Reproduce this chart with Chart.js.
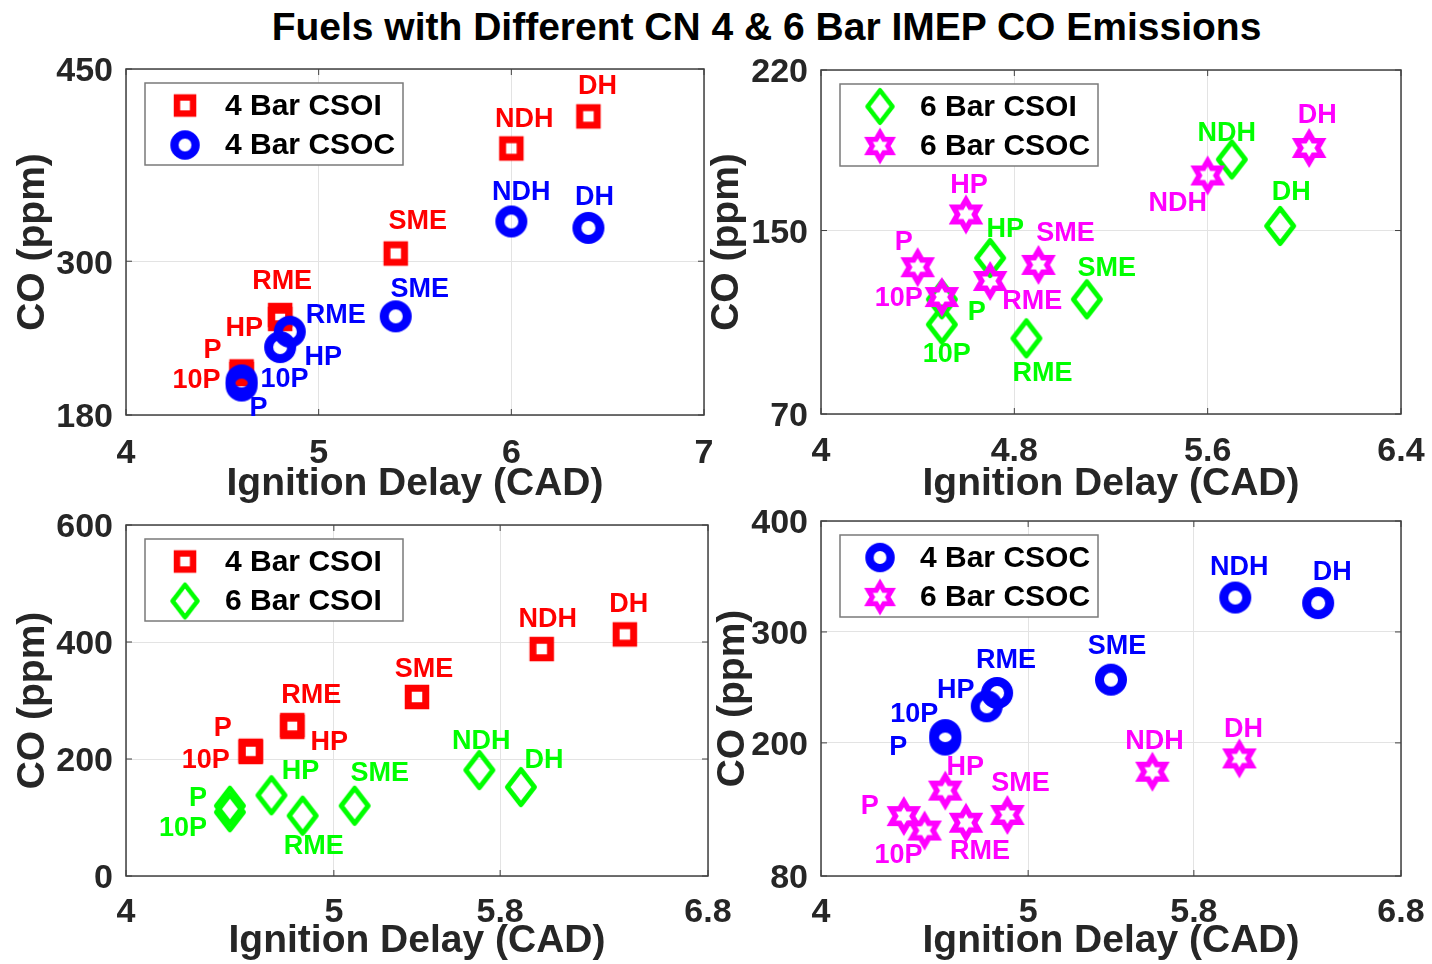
<!DOCTYPE html>
<html>
<head>
<meta charset="utf-8">
<script src="https://cdn.jsdelivr.net/npm/chart.js@4.4.1/dist/chart.umd.min.js"></script>
<style>
  html, body { margin: 0; padding: 0; background: #fff; }
  body { width: 1432px; height: 964px; position: relative; overflow: hidden; }
  #title {
    position: absolute; left: 0; top: 5px; width: 1533px; line-height: 50px;
    text-align: center; font: bold 39px "Liberation Sans", Arial, sans-serif; color: #000;
  }
  canvas { position: absolute; }
</style>
</head>
<body>
<div id="title">Fuels with Different CN 4 &amp; 6 Bar IMEP CO Emissions</div>
<canvas id="tl"></canvas>
<canvas id="tr"></canvas>
<canvas id="bl"></canvas>
<canvas id="br"></canvas>
<script>
var fuels = ["P", "10P", "HP", "RME", "SME", "NDH", "DH"];

// ignition delay (CAD) and CO (ppm) per fuel
var csoi4_delay = [4.6, 4.6, 4.8, 4.8, 5.4, 6.0, 6.4];
var csoi4_co = [214, 212, 255, 258, 306, 388, 413];
var csoc4_delay = [4.6, 4.6, 4.8, 4.85, 5.4, 6.0, 6.4];
var csoc4_co = [203, 207, 233, 245, 257, 331, 326];
var csoi6_delay = [4.5, 4.5, 4.7, 4.85, 5.1, 5.7, 5.9];
var csoi6_co = [120, 109, 138, 103, 120, 181, 152];
var csoc6_delay = [4.4, 4.5, 4.6, 4.7, 4.9, 5.6, 6.02];
var csoc6_co = [134, 121, 157, 128, 135, 174, 186];

var tl_x_ticks = [4, 5, 6, 7];
var tl_y_ticks = [180, 300, 450];
var tr_x_ticks = [4, 4.8, 5.6, 6.4];
var tr_y_ticks = [70, 150, 220];
var bl_x_ticks = [4, 5, 5.8, 6.8];
var bl_y_ticks = [0, 200, 400, 600];
var br_x_ticks = [4, 5, 5.8, 6.8];
var br_y_ticks = [80, 200, 300, 400];

var FONT = '"Liberation Sans", Arial, Helvetica, sans-serif';
var AXIS_COLOR = '#262626';

function marker(kind, color) {
  var c = document.createElement('canvas');
  c.width = 46; c.height = 48;
  var g = c.getContext('2d');
  g.translate(23, 24);
  g.strokeStyle = color;
  if (kind == 'square') {
    g.lineWidth = 7;
    g.strokeRect(-8.75, -8.75, 17.5, 17.5);
  } else if (kind == 'circle') {
    g.lineWidth = 9;
    g.beginPath(); g.arc(0, 0, 11.5, 0, Math.PI * 2); g.stroke();
  } else if (kind == 'diamond') {
    g.lineWidth = 5; g.lineJoin = 'round';
    g.beginPath();
    g.moveTo(0, -17.5); g.lineTo(13.5, 0); g.lineTo(0, 17.5); g.lineTo(-13.5, 0);
    g.closePath(); g.stroke();
  } else {
    g.lineWidth = 5.5; g.lineJoin = 'miter';
    g.beginPath();
    for (var i = 0; i < 12; i++) {
      var r = i % 2 == 0 ? 14.5 : 8.4;
      var a = -Math.PI / 2 + i * Math.PI / 6;
      if (i == 0) g.moveTo(r * Math.cos(a), r * Math.sin(a));
      else g.lineTo(r * Math.cos(a), r * Math.sin(a));
    }
    g.closePath(); g.stroke();
  }
  return c;
}

var series = {
  csoi4: { label: '4 Bar CSOI', x: csoi4_delay, y: csoi4_co, color: '#ff0000', shape: 'square' },
  csoc4: { label: '4 Bar CSOC', x: csoc4_delay, y: csoc4_co, color: '#0000ff', shape: 'circle' },
  csoi6: { label: '6 Bar CSOI', x: csoi6_delay, y: csoi6_co, color: '#00ff00', shape: 'diamond' },
  csoc6: { label: '6 Bar CSOC', x: csoc6_delay, y: csoc6_co, color: '#ff00ff', shape: 'hexagram' }
};

// label offsets from the marker centre, one per fuel
var panels = [
  { id: 'tl', canvas: [0, 20, 780, 500], area: [126, 69, 704, 415],
    xTicks: tl_x_ticks, yTicks: tl_y_ticks, xTitleY: 484, yTitleX: 33, tickY: 454,
    series: ['csoi4', 'csoc4'],
    offsets: {
      csoi4: [[-29, -21], [-45, 7], [-36, 10], [2, -33], [22, -32], [13, -29], [9, -30]],
      csoc4: [[17, 23], [43, -1], [43, 10], [46, -16], [24, -27], [10, -29], [6, -30]]
    } },
  { id: 'tr', canvas: [690, 20, 800, 500], area: [821, 70, 1401, 414],
    xTicks: tr_x_ticks, yTicks: tr_y_ticks, xTitleY: 484, yTitleX: 727, tickY: 452,
    series: ['csoi6', 'csoc6'],
    offsets: {
      csoi6: [[35, 13], [5, 30], [15, -29], [16, 35], [20, -31], [-5, -26], [11, -33]],
      csoc6: [[-14, -25], [-43, 2], [3, -29], [42, 21], [27, -31], [-30, 28], [8, -32]]
    } },
  { id: 'bl', canvas: [0, 480, 780, 484], area: [126, 525, 708, 876],
    xTicks: bl_x_ticks, yTicks: bl_y_ticks, xTitleY: 941, yTitleX: 33, tickY: 913,
    series: ['csoi4', 'csoi6'],
    offsets: {
      csoi4: [[-28, -22], [-45, 9], [37, 16], [19, -30], [7, -27], [6, -29], [4, -30]],
      csoi6: [[-32, -7], [-47, 16], [29, -24], [11, 31], [25, -32], [2, -29], [23, -27]]
    } },
  { id: 'br', canvas: [690, 480, 800, 484], area: [821, 521, 1401, 876],
    xTicks: br_x_ticks, yTicks: br_y_ticks, xTitleY: 941, yTitleX: 733, tickY: 913,
    series: ['csoc4', 'csoc6'],
    offsets: {
      csoc4: [[-47, 8], [-31, -21], [-31, -16], [9, -32], [6, -33], [4, -30], [14, -31]],
      csoc6: [[-34, -10], [-26, 25], [20, -23], [14, 29], [13, -31], [2, -30], [4, -29]]
    } }
];

var framePlugin = {
  id: 'frame',
  beforeDatasetsDraw: function (chart) {
    var a = chart.chartArea, ctx = chart.ctx;
    var xs = chart.scales.x, ys = chart.scales.y;
    ctx.save();
    ctx.strokeStyle = '#404040';
    ctx.lineWidth = 1.5;
    ctx.strokeRect(a.left, a.top, a.right - a.left, a.bottom - a.top);
    ctx.lineWidth = 1;
    ctx.beginPath();
    xs.ticks.forEach(function (t) {
      var px = xs.getPixelForValue(t.value);
      ctx.moveTo(px, a.bottom); ctx.lineTo(px, a.bottom - 6);
      ctx.moveTo(px, a.top); ctx.lineTo(px, a.top + 6);
    });
    ys.ticks.forEach(function (t) {
      var py = ys.getPixelForValue(t.value);
      ctx.moveTo(a.left, py); ctx.lineTo(a.left + 6, py);
      ctx.moveTo(a.right, py); ctx.lineTo(a.right - 6, py);
    });
    ctx.stroke();
    ctx.restore();
  }
};

var labelPlugin = {
  id: 'fuelLabels',
  afterDatasetsDraw: function (chart) {
    var ctx = chart.ctx;
    ctx.save();
    ctx.font = 'bold 27px ' + FONT;
    ctx.textAlign = 'center';
    ctx.textBaseline = 'middle';
    chart.data.datasets.forEach(function (ds, i) {
      var pts = chart.getDatasetMeta(i).data;
      ctx.fillStyle = ds.labelColor;
      pts.forEach(function (p, j) {
        var o = ds.labelOffsets[j];
        ctx.fillText(fuels[j], p.x + o[0], p.y + o[1]);
      });
    });
    ctx.restore();
  }
};

var legendPlugin = {
  id: 'boxLegend',
  afterDraw: function (chart) {
    var a = chart.chartArea, ctx = chart.ctx;
    var left = a.left + 19, top = a.top + 14;
    ctx.save();
    ctx.fillStyle = '#fff';
    ctx.fillRect(left, top, 258, 82);
    ctx.strokeStyle = '#7a7a7a';
    ctx.lineWidth = 1.5;
    ctx.strokeRect(left, top, 258, 82);
    ctx.font = 'bold 30px ' + FONT;
    ctx.fillStyle = '#000';
    ctx.textBaseline = 'middle';
    ctx.textAlign = 'left';
    var items = chart.data.datasets.slice().sort(function (p, q) { return q.order - p.order; });
    items.forEach(function (ds, i) {
      var cy = top + 22.5 + i * 39.5;
      var img = ds.pointStyle;
      var w = img.width * 0.92, h = img.height * 0.92;
      ctx.drawImage(img, left + 40 - w / 2, cy - h / 2, w, h);
      ctx.fillText(ds.label, left + 80, cy + 1);
    });
    ctx.restore();
  }
};

function buildPanel(p) {
  var el = document.getElementById(p.id);
  var cx = p.canvas[0], cy = p.canvas[1], cw = p.canvas[2], ch = p.canvas[3];
  el.width = cw; el.height = ch;
  el.style.left = cx + 'px'; el.style.top = cy + 'px';
  el.style.width = cw + 'px'; el.style.height = ch + 'px';

  var yWidth = p.area[0] - cx;
  var xHeight = cy + ch - p.area[3];
  var tickFont = { family: FONT, size: 34, weight: 'bold', lineHeight: 1 };
  var titleFont = { family: FONT, size: 39, weight: 'bold', lineHeight: 1 };

  var datasets = p.series.map(function (key, k) {
    var s = series[key];
    return {
      label: s.label,
      data: s.x.map(function (v, i) { return { x: v, y: s.y[i] }; }),
      pointStyle: marker(s.shape, s.color),
      pointRadius: 14,
      pointHoverRadius: 14,
      showLine: false,
      clip: false,
      order: p.series.length - k,
      labelColor: s.color,
      labelOffsets: p.offsets[key]
    };
  });

  return new Chart(el, {
    type: 'scatter',
    data: { datasets: datasets },
    options: {
      responsive: false,
      animation: false,
      devicePixelRatio: 1,
      events: [],
      layout: { padding: { left: 0, top: p.area[1] - cy, right: cx + cw - p.area[2], bottom: 0 } },
      plugins: { legend: { display: false }, tooltip: { enabled: false } },
      scales: {
        x: {
          type: 'linear',
          min: p.xTicks[0],
          max: p.xTicks[p.xTicks.length - 1],
          afterBuildTicks: function (s) { s.ticks = p.xTicks.map(function (v) { return { value: v }; }); },
          afterFit: function (s) { s.height = xHeight; },
          grid: { color: '#e3e3e3', drawTicks: false },
          border: { display: false },
          ticks: {
            font: tickFont, color: AXIS_COLOR, padding: p.tickY - p.area[3] - 17,
            maxRotation: 0, autoSkip: false,
            callback: function (v) { return String(v); }
          },
          title: {
            display: true, text: 'Ignition Delay (CAD)', font: titleFont, color: AXIS_COLOR,
            padding: { top: 0, bottom: cy + ch - p.xTitleY - 19.5 }
          }
        },
        y: {
          type: 'linear',
          min: p.yTicks[0],
          max: p.yTicks[p.yTicks.length - 1],
          afterBuildTicks: function (s) { s.ticks = p.yTicks.map(function (v) { return { value: v }; }); },
          afterFit: function (s) { s.width = yWidth; },
          grid: { color: '#e3e3e3', drawTicks: false },
          border: { display: false },
          ticks: {
            font: tickFont, color: AXIS_COLOR, padding: 13, autoSkip: false, labelOffset: 3,
            callback: function (v) { return String(v); }
          },
          title: {
            display: true, text: 'CO (ppm)', font: titleFont, color: AXIS_COLOR,
            padding: { top: p.yTitleX - cx - 19.5, bottom: 0 }
          }
        }
      }
    },
    plugins: [framePlugin, labelPlugin, legendPlugin]
  });
}

panels.forEach(buildPanel);
</script>
</body>
</html>
